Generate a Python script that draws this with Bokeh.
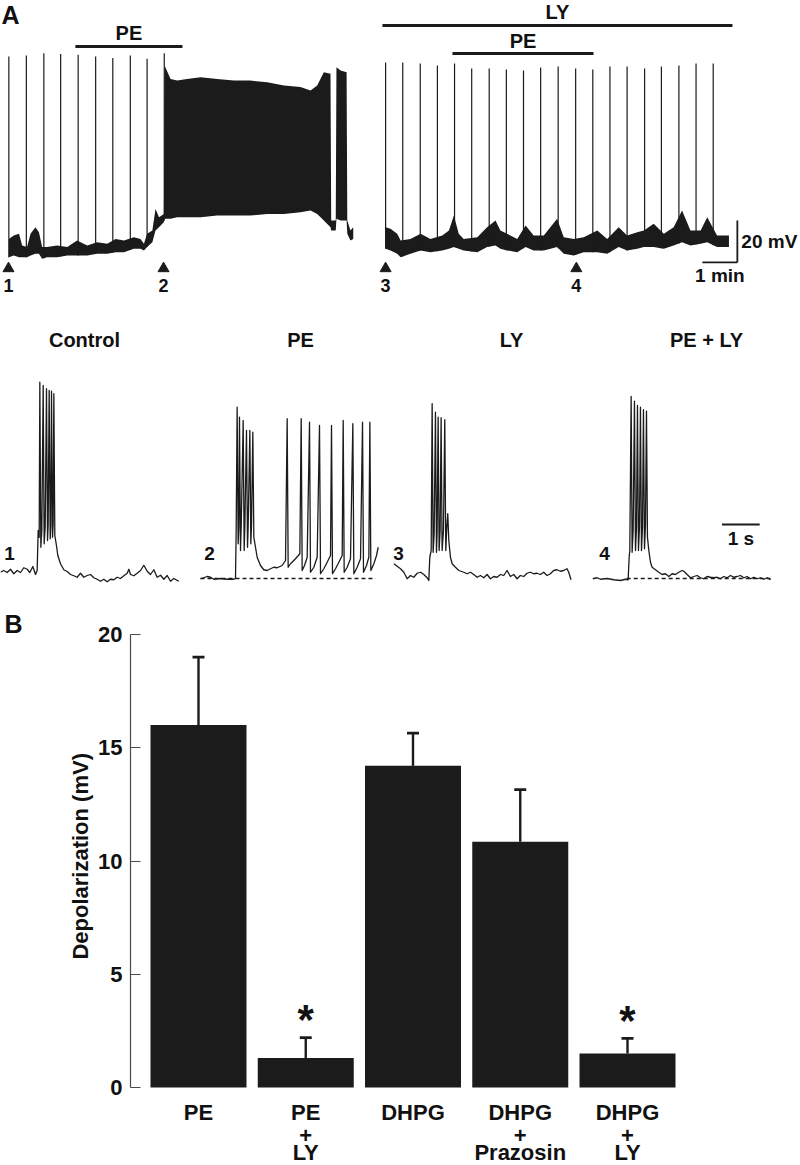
import numpy as np
from bokeh.plotting import figure
from bokeh.models import (Range1d, FactorRange, Whisker, TeeHead, LinearAxis,
                          ColumnDataSource, FixedTicker)
from bokeh.core.properties import value
from bokeh.embed import file_html
from bokeh.resources import INLINE

FONT = "Liberation Sans"
INK = "#1b1b1b"

# ---------------- Panel A, top: slow recordings (time in min, Vm in mV) -------------
TL_T = [0.01, 0.15, 0.30, 0.39, 0.53, 0.63, 0.77, 0.87, 0.96, 1.10, 1.39, 1.68, 1.96,
        2.25, 2.53, 2.82, 3.06, 3.30, 3.58, 3.77, 3.87, 3.96, 4.11, 4.20, 4.30, 4.44,
        4.46, 4.63, 4.82, 5.10, 5.49, 5.96, 6.44, 6.91, 7.39, 7.87, 8.34, 8.63, 8.82,
        9.01, 9.20, 9.22, 9.35, 9.37, 9.49, 9.66, 9.68, 9.77, 9.85]
TL_UP = [-52.1, -50.5, -49.7, -55.2, -56.0, -49.7, -46.5, -48.9, -56.0, -56.0, -55.2,
         -56.0, -52.9, -55.2, -53.7, -54.4, -52.1, -52.9, -51.3, -52.1, -54.4, -49.7,
         -48.1, -37.8, -41.8, -40.2,
         30.5, 24.1, 23.3, 24.1, 24.9, 24.1, 23.3, 23.3, 22.5, 21.0, 20.2, 18.6, 21.0,
         27.3, 26.5,
         -43.3, -43.3, 29.7, 28.1, 27.3, -43.3, -48.1, -46.5]
TL_LO = [-60.8, -60.0, -60.8, -60.8, -60.8, -60.0, -59.2, -59.2, -61.6, -60.8, -60.8,
         -60.0, -60.0, -60.0, -59.2, -59.2, -58.4, -58.4, -56.8, -56.8, -57.6, -56.0,
         -53.7, -48.1, -46.5, -44.1,
         -42.5, -42.5, -41.8, -41.8, -41.8, -41.0, -41.0, -41.0, -40.2, -40.2, -39.4,
         -38.6, -40.2, -43.3, -46.5,
         -48.1, -48.1, -42.5, -43.3, -43.3, -49.7, -52.9, -52.1]
TL_SPK_T = [0.01, 0.51, 1.01, 1.49, 1.99, 2.49, 2.98, 3.48, 3.96, 4.45]
TL_SPK_V = [34.8, 35.2, 36.3, 36.0, 35.6, 34.8, 34.0, 35.2, 33.7, 36.3]
PE_L = [1.91, 4.97]
SAMPLE_L = [0.0, 4.43]

TR_T = [0.06, 0.20, 0.39, 0.49, 0.77, 1.06, 1.34, 1.68, 1.87, 2.01, 2.15, 2.29, 2.68,
        2.96, 3.20, 3.34, 3.53, 3.82, 4.06, 4.29, 4.58, 4.96, 5.15, 5.44, 5.72, 6.11,
        6.39, 6.72, 6.96, 7.25, 7.44, 7.72, 8.01, 8.29, 8.53, 8.77, 9.06, 9.25, 9.53, 9.87]
TR_UP = [-46.5, -47.3, -49.7, -52.9, -52.1, -49.7, -52.1, -50.5, -48.1, -41.0, -49.7,
         -52.1, -51.3, -46.5, -43.3, -48.1, -49.7, -52.1, -45.7, -50.5, -50.5, -42.5,
         -51.3, -52.1, -51.3, -48.1, -52.1, -46.5, -50.5, -48.9, -48.1, -44.9, -49.7,
         -46.5, -38.6, -48.1, -48.1, -41.8, -50.5, -50.5]
TR_LO = [-56.8, -57.6, -59.2, -60.8, -59.2, -57.6, -58.4, -57.6, -56.8, -56.0, -56.8,
         -57.6, -58.4, -56.0, -55.2, -56.8, -57.6, -58.4, -56.0, -57.6, -57.6, -56.0,
         -59.2, -60.0, -58.4, -58.4, -59.2, -56.0, -57.6, -56.8, -56.0, -56.0, -56.8,
         -55.2, -53.7, -55.2, -54.4, -53.7, -56.0, -56.0]
TR_SPK_T = [0.06, 0.55, 1.05, 1.54, 2.03, 2.52, 3.02, 3.51, 4.00, 4.49, 4.99, 5.49,
            5.98, 6.47, 6.96, 7.46, 7.94, 8.44, 8.93, 9.42]
TR_SPK_V = [31.9, 31.9, 31.4, 30.5, 31.4, 29.0, 29.0, 28.6, 28.1, 29.5, 30.0, 29.0,
            28.6, 30.0, 30.0, 29.0, 30.0, 30.5, 31.4, 31.4]
LY_R = [-0.03, 9.97]
PE_R = [1.97, 6.00]
SAMPLE_R = [0.06, 5.51]
SCALE_MIN, SCALE_MV = 1.0, 20.0

# ---------------- Panel A, bottom: expanded sweeps (time in s, Vm in mV) -------------
CTRL_T = [0, 0.088, 0.177, 0.265, 0.354, 0.442, 0.531, 0.619, 0.708, 0.779, 0.858, 0.929,
          0.973, 1.000, 1.027, 1.044, 1.071, 1.097, 1.133, 1.159, 1.186, 1.221, 1.248,
          1.265, 1.292, 1.319, 1.336, 1.354, 1.381, 1.398, 1.416, 1.442, 1.478, 1.522,
          1.593, 1.681, 1.770, 1.858, 1.947, 2.035, 2.124, 2.212, 2.301, 2.389, 2.478,
          2.566, 2.655, 2.743, 2.832, 2.920, 3.009, 3.097, 3.186, 3.274, 3.363, 3.407,
          3.451, 3.540, 3.628, 3.717, 3.805, 3.894, 3.982, 4.071, 4.159, 4.248, 4.336,
          4.425, 4.513, 4.602, 4.735]
CTRL_V = [-57.5, -56.8, -57.6, -56.3, -58.1, -56.8, -57.6, -55.7, -56.3, -57.6, -55.2,
          -58.4, -56.8, -40.8, -43.5, 18.5, -47.5, -40.8, 17.2, -46.1, -39.5, 15.9, -44.8,
          -38.8, 15.2, -44.1, -38.8, 14.9, -43.5, -38.1, 13.9, -42.8, -46.1, -50.8, -54.1,
          -56.5, -57.2, -58.4, -58.9, -59.5, -57.9, -59.5, -58.8, -58.4, -59.7, -60.3,
          -61.1, -60.3, -61.3, -60.3, -60.5, -59.5, -60.0, -58.9, -57.9, -56.3, -58.4,
          -58.9, -57.9, -56.8, -54.7, -57.1, -58.4, -56.5, -59.5, -58.7, -60.3, -58.8,
          -61.1, -60.0, -61.1]
PE_T = [0, 0.088, 0.177, 0.265, 0.354, 0.531, 0.708, 0.885, 0.929, 0.947, 0.973, 1.000,
        1.018, 1.035, 1.062, 1.080, 1.133, 1.159, 1.177, 1.221, 1.248, 1.265, 1.310,
        1.336, 1.354, 1.389, 1.416, 1.460, 1.504, 1.593, 1.681, 1.770, 1.858, 1.947,
        2.035, 2.168, 2.257, 2.301, 2.327, 2.389, 2.522, 2.637, 2.673, 2.699, 2.761,
        2.832, 2.894, 2.920, 3.009, 3.097, 3.159, 3.186, 3.274, 3.363, 3.451, 3.478,
        3.504, 3.584, 3.673, 3.761, 3.788, 3.814, 3.894, 3.982, 4.044, 4.071, 4.159,
        4.248, 4.301, 4.327, 4.407, 4.469, 4.496, 4.522, 4.602, 4.673, 4.717]
PE_V = [-60.1, -59.7, -59.2, -59.5, -60.3, -60.0, -60.3, -60.3, -60.0, -40.8, 8.5, -46.1,
        -39.5, 4.5, -48.8, -39.5, 3.2, -48.8, -39.5, -0.8, -47.5, -39.5, -0.8, -46.1,
        -38.8, -1.5, -43.5, -47.5, -51.5, -54.8, -56.5, -56.8, -56.1, -55.5, -55.7,
        -54.8, -52.8, 3.9, -55.5, -54.1, -52.1, -50.1, 3.9, -56.8, -54.8, -51.5, 2.5,
        -57.5, -55.5, -51.5, 1.2, -58.1, -56.1, -53.5, -50.8, 1.2, -58.1, -56.1, -53.5,
        -50.8, 3.2, -57.5, -55.5, -52.1, 1.9, -58.1, -55.5, -52.1, 2.5, -57.5, -54.8,
        -51.5, 2.5, -56.8, -54.1, -50.8, -47.5]
LY_T = [0.009, 0.186, 0.274, 0.363, 0.451, 0.539, 0.628, 0.716, 0.805, 0.893, 0.937,
        0.964, 1.000, 1.026, 1.052, 1.079, 1.114, 1.141, 1.158, 1.185, 1.211, 1.238,
        1.264, 1.291, 1.326, 1.361, 1.388, 1.415, 1.441, 1.468, 1.512, 1.556, 1.645,
        1.733, 1.866, 1.954, 2.043, 2.131, 2.219, 2.308, 2.396, 2.485, 2.573, 2.661,
        2.750, 2.838, 2.927, 3.015, 3.103, 3.192, 3.280, 3.369, 3.457, 3.545, 3.634,
        3.722, 3.811, 3.899, 3.988, 4.076, 4.164, 4.253, 4.341, 4.430, 4.518, 4.607,
        4.651, 4.713]
LY_V = [-54.1, -56.1, -57.5, -60.1, -58.8, -59.5, -57.9, -57.5, -58.4, -59.7, -60.8,
        -51.5, -48.8, 9.9, -49.5, -42.1, 6.5, -49.5, -41.5, 4.5, -48.8, -40.8, 4.3, -48.8,
        -40.8, 3.5, -48.8, -39.5, -34.1, -44.8, -51.5, -54.1, -55.5, -56.8, -57.5, -58.1,
        -57.5, -58.4, -59.5, -58.8, -59.7, -58.4, -60.1, -59.2, -59.5, -58.4, -58.8,
        -56.8, -59.2, -58.4, -60.1, -58.8, -59.2, -57.9, -57.5, -58.1, -57.9, -58.4,
        -57.5, -58.8, -58.1, -56.8, -56.5, -57.1, -56.8, -56.1, -57.5, -60.5]
PELY_T = [0, 0.115, 0.204, 0.381, 0.558, 0.735, 0.867, 0.938, 0.965, 0.982, 1.018,
          1.044, 1.071, 1.106, 1.133, 1.159, 1.186, 1.212, 1.239, 1.265, 1.292, 1.319,
          1.345, 1.372, 1.398, 1.425, 1.451, 1.487, 1.531, 1.575, 1.664, 1.752, 1.841,
          1.929, 2.018, 2.106, 2.195, 2.283, 2.372, 2.416, 2.504, 2.593, 2.681, 2.770,
          2.858, 2.947, 3.035, 3.124, 3.212, 3.301, 3.389, 3.478, 3.566, 3.655, 3.743,
          3.832, 3.920, 4.009, 4.097, 4.186, 4.274, 4.363, 4.451, 4.540, 4.628, 4.717]
PELY_V = [-60.1, -59.7, -60.3, -60.0, -60.5, -60.8, -60.3, -60.5, -51.5, -48.8, 12.8,
          -49.5, -40.8, 10.9, -48.8, -40.1, 9.2, -48.8, -39.5, 8.5, -48.8, -39.5, 7.5,
          -48.1, -38.8, 6.9, -43.5, -48.8, -53.5, -55.5, -56.5, -57.5, -58.4, -58.1,
          -59.2, -58.1, -58.4, -57.5, -56.8, -57.1, -58.4, -59.7, -59.2, -58.8, -59.7,
          -60.1, -59.2, -59.5, -59.7, -59.5, -60.1, -59.2, -59.7, -58.8, -59.5, -59.2,
          -58.8, -59.7, -59.2, -60.1, -59.5, -60.1, -59.7, -60.3, -59.7, -60.5]
REST_V = -60.0
PE_DASH = [0.0, 4.65]
PELY_DASH = [0.9, 4.72]
SCALE_S = 1.0
SWEEP_TITLES = ["Control", "PE", "LY", "PE + LY"]
SWEEP_NUMS = ["1", "2", "3", "4"]

# ---------------- Panel B: bar chart ------------------------------------------------
CONDS = ["PE", "PE + LY", "DHPG", "DHPG + Prazosin", "DHPG + LY"]
COND_LINES = [["PE", "PE", "DHPG", "DHPG", "DHPG"],
              ["", "+", "", "+", "+"],
              ["", "LY", "", "Prazosin", "LY"]]
MEANS = [16.0, 1.3, 14.2, 10.85, 1.5]
SEMS = [3.0, 0.9, 1.45, 2.3, 0.67]
SIG = ["", "*", "", "", "*"]
Y_TICKS = [0, 5, 10, 15, 20]

# ---------------- layout -------------------------------------------------------------
W, HA, HB = 800, 600, 565


def trace_ranges(x0, sx, y0, v0, sy):
    return (Range1d(-x0 / sx, (W - x0) / sx),
            Range1d(v0 - (HA - y0) / sy, v0 + y0 / sy))


pA = figure(width=W, height=HA, x_range=Range1d(0, W), y_range=Range1d(HA, 0),
            x_axis_location=None, y_axis_location=None, toolbar_location=None,
            output_backend="svg", min_border=0, outline_line_color=None)
pA.grid.visible = False

spec = {"tl": (8, 35.0, 255, -60.0, 2.1), "tr": (383, 35.0, 255, -60.0, 2.1),
        "c": (0, 37.67, 578, -60.0, 2.5), "pe": (200, 37.67, 578, -60.0, 2.5),
        "ly": (393, 37.67, 578, -60.0, 2.5), "pl": (592.3, 37.67, 578, -60.0, 2.5)}
xr, yr = {}, {}
for k, s in spec.items():
    xr[k], yr[k] = trace_ranges(*s)
pA.extra_x_ranges = xr
pA.extra_y_ranges = yr


def txt(p, x, y, s, size, align="center", baseline="middle", **kw):
    p.text(x=x, y=y, text=s, text_font=value(FONT), text_font_style="bold",
           text_font_size=size, text_align=align, text_baseline=baseline,
           text_color="#111111", **kw)


for k, T, LO, UP, ST, SV in (("tl", TL_T, TL_LO, TL_UP, TL_SPK_T, TL_SPK_V),
                             ("tr", TR_T, TR_LO, TR_UP, TR_SPK_T, TR_SPK_V)):
    pA.varea(x=T, y1=LO, y2=UP, fill_color=INK, x_range_name=k, y_range_name=k)
    base = np.interp(ST, T, LO)
    pA.segment(x0=ST, y0=base, x1=ST, y1=SV, line_color=INK, line_width=1.2,
               x_range_name=k, y_range_name=k)

pA.segment(x0=[PE_L[0]], y0=[46], x1=[PE_L[1]], y1=[46], line_color=INK, line_width=3,
           x_range_name="tl")
txt(pA, [sum(PE_L) / 2], [32], ["PE"], "20px", x_range_name="tl")
pA.segment(x0=[LY_R[0], PE_R[0]], y0=[25, 53], x1=[LY_R[1], PE_R[1]], y1=[25, 53],
           line_color=INK, line_width=3, x_range_name="tr")
txt(pA, [sum(LY_R) / 2], [11], ["LY"], "20px", x_range_name="tr")
txt(pA, [sum(PE_R) / 2], [40], ["PE"], "20px", x_range_name="tr")

for k, S, lab in (("tl", SAMPLE_L, SWEEP_NUMS[:2]), ("tr", SAMPLE_R, SWEEP_NUMS[2:])):
    pA.scatter(x=S, y=[268] * len(S), marker="triangle", size=11, fill_color=INK,
               line_color=INK, x_range_name=k)
    txt(pA, S, [285] * len(S), lab, "18px", x_range_name=k)

sb_t, sb_v = TR_T[-1] + 0.24, -63.3
pA.segment(x0=[sb_t, sb_t - SCALE_MIN], y0=[sb_v, sb_v], x1=[sb_t, sb_t],
           y1=[sb_v + SCALE_MV, sb_v], line_color=INK, line_width=1.8,
           x_range_name="tr", y_range_name="tr")
txt(pA, [sb_t], [sb_v + SCALE_MV / 2], ["20 mV"], "19px", align="left", x_offset=4,
    x_range_name="tr", y_range_name="tr")
txt(pA, [sb_t - SCALE_MIN / 2], [sb_v], ["1 min"], "19px", baseline="top", y_offset=3,
    x_range_name="tr", y_range_name="tr")

for k, T, V in (("c", CTRL_T, CTRL_V), ("pe", PE_T, PE_V), ("ly", LY_T, LY_V),
                ("pl", PELY_T, PELY_V)):
    pA.line(x=T, y=V, line_color=INK, line_width=1.3, line_join="round",
            x_range_name=k, y_range_name=k)
for k, D in (("pe", PE_DASH), ("pl", PELY_DASH)):
    pA.segment(x0=[D[0]], y0=[REST_V], x1=[D[1]], y1=[REST_V], line_color=INK,
               line_width=1.3, line_dash="4 3", x_range_name=k, y_range_name=k)
pA.segment(x0=[3.43], y0=[-38.4], x1=[3.43 + SCALE_S], y1=[-38.4], line_color=INK,
           line_width=2, x_range_name="pl", y_range_name="pl")
txt(pA, [3.43 + SCALE_S / 2], [-38.4], ["1 s"], "19px", baseline="top", y_offset=3,
    x_range_name="pl", y_range_name="pl")
txt(pA, [84, 300, 511, 706], [339] * 4, SWEEP_TITLES, "20px")
txt(pA, [9, 209, 398, 604], [553] * 4, SWEEP_NUMS, "19px")
txt(pA, [1], [0], ["A"], "25px", align="left", baseline="top")

# ---------------- Panel B ----------------------------------------------------------
PX_PER_MV = 22.65          # vertical pixels per mV on the bar chart
Y0_PX, TOP_PX = 487, 20    # zero line and frame top, in pixels from the top of pB
y_lo = -(HB - Y0_PX) / PX_PER_MV
y_hi = (Y0_PX - TOP_PX) / PX_PER_MV

src = ColumnDataSource(dict(cond=CONDS, mean=MEANS,
                            hi=[m + s for m, s in zip(MEANS, SEMS)]))
pB = figure(width=W, height=HB,
            x_range=FactorRange(factors=CONDS, range_padding=0.134,
                                range_padding_units="absolute"),
            y_range=Range1d(y_lo, y_hi), toolbar_location=None, output_backend="svg",
            x_axis_location=None, min_border_left=130, min_border_right=105,
            min_border_top=TOP_PX, min_border_bottom=0, outline_line_color=None)
pB.grid.visible = False
pB.vbar(x="cond", top="mean", bottom=0, width=0.895, source=src, fill_color=INK,
        line_color=None)
pB.add_layout(Whisker(source=src, base="cond", lower="mean", upper="hi",
                      dimension="height", line_color=INK, line_width=2.4,
                      upper_head=TeeHead(size=12, line_color=INK, line_width=2.8),
                      lower_head=None))
sx = [c for c, s in zip(CONDS, SIG) if s]
sy = [m + e for m, e, s in zip(MEANS, SEMS, SIG) if s]
pB.text(x=sx, y=sy, text=[s for s in SIG if s], text_font=value(FONT),
        text_font_style="bold", text_font_size="42px", text_align="center",
        text_baseline="alphabetic", y_offset=-18, text_color="#111111")
# condition names under each bar, one text row per line (categorical x scale)
for row, off in zip(COND_LINES, (25, 48, 65)):
    pB.text(x=CONDS, y=[0] * len(CONDS), text=row, text_font=value(FONT),
            text_font_style="bold", text_font_size="22px", text_align="center",
            text_baseline="alphabetic", y_offset=off, text_color="#111111")

ya = pB.yaxis[0]
ya.bounds = (0, 20)
ya.ticker = FixedTicker(ticks=Y_TICKS)
ya.major_tick_in, ya.major_tick_out = 10, 0
ya.minor_tick_line_color = None
ya.axis_line_color = "#4a4a4a"
ya.major_tick_line_color = "#4a4a4a"
ya.axis_line_width = 1.2
ya.major_tick_line_width = 1.2
ya.major_label_text_font = FONT
ya.major_label_text_font_style = "bold"
ya.major_label_text_font_size = "22px"
ya.major_label_text_color = "#111111"
ya.major_label_standoff = 8
# leading no-break spaces lift the title so it is centred on the 0-20 mV span
ya.axis_label = "\u00a0" * 12 + "Depolarization (mV)"
ya.axis_label_text_font = FONT
ya.axis_label_text_font_style = "bold"
ya.axis_label_text_font_size = "22px"
ya.axis_label_text_color = "#111111"
ya.axis_label_standoff = 2

# panel letter "B", carried by an outer, otherwise invisible left axis
B_Y = 20.45
pB.extra_y_ranges = {"panel": Range1d(y_lo, y_hi)}
lab_axis = LinearAxis(y_range_name="panel", ticker=FixedTicker(ticks=[B_Y]),
                      major_label_overrides={B_Y: "B"}, axis_line_color=None,
                      major_tick_line_color=None, minor_tick_line_color=None,
                      major_tick_in=0, major_tick_out=0, major_label_standoff=43,
                      major_label_text_font=FONT, major_label_text_font_style="bold",
                      major_label_text_font_size="25px",
                      major_label_text_color="#111111")
pB.add_layout(lab_axis, "left")

open("out.html", "w").write(file_html([pA, pB], INLINE))
